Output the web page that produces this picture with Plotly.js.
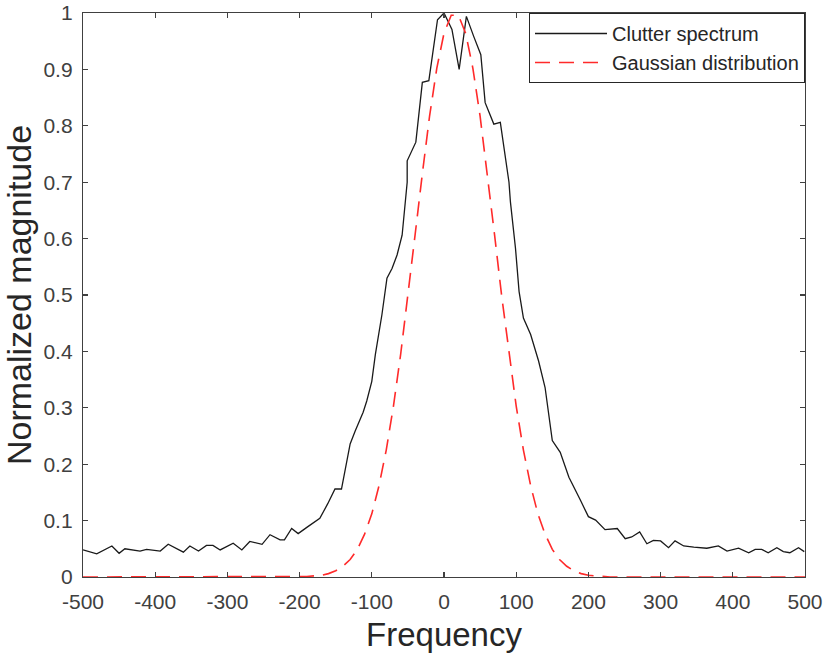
<!DOCTYPE html>
<html>
<head>
<meta charset="utf-8">
<script src="https://cdn.plot.ly/plotly-3.0.1.min.js"></script>
<style>html,body{margin:0;padding:0;background:#fff;}#chart{width:827px;height:664px;}</style>
</head>
<body>
<div id="chart"></div>
<script>
// Clutter spectrum (black solid)
var clutterFreq = [-500,-481,-460,-450,-442,-421,-412,-393,-382,-361,-352,-340,-329,-320,-310,-292,-280,-269,-252,-241,-227,-221,-211,-202,-190,-181,-172,-161,-151,-142,-137,-130,-123,-112,-107,-100,-95,-86,-79,-72,-65,-58,-51,-51,-39,-30,-21,-9,0,11,21,31,41,51,57,69,78,83,90,92,99,104,106,110,120,131,140,145,150,161,173,189,200,210,223,240,251,260,271,281,290,300,311,320,332,346,364,380,392,408,422,431,440,449,461,470,479,491,499];
var clutterMag  = [0.048,0.041,0.055,0.042,0.050,0.046,0.049,0.046,0.058,0.044,0.055,0.046,0.056,0.056,0.048,0.060,0.048,0.063,0.058,0.075,0.066,0.066,0.086,0.077,0.088,0.096,0.104,0.130,0.156,0.156,0.189,0.236,0.259,0.292,0.312,0.347,0.395,0.465,0.530,0.547,0.571,0.606,0.700,0.738,0.771,0.877,0.880,0.988,1.000,0.971,0.900,0.994,0.959,0.926,0.841,0.803,0.806,0.759,0.700,0.665,0.583,0.506,0.489,0.459,0.430,0.383,0.336,0.289,0.242,0.221,0.177,0.136,0.107,0.101,0.084,0.086,0.068,0.071,0.080,0.059,0.065,0.064,0.052,0.064,0.055,0.053,0.051,0.055,0.046,0.051,0.043,0.049,0.049,0.043,0.052,0.045,0.043,0.052,0.045];

// Gaussian distribution (red dashed)
var gaussFreq = [-500,-200,-190,-180,-170,-160,-150,-140,-130,-120,-110,-100,-90,-80,-70,-60,-50,-40,-30,-20,-10,0,10,20,30,40,50,60,70,80,90,100,110,120,130,140,150,160,170,180,190,200,210,220,230,500];
var gaussMag  = [0,0,0.001,0.002,0.003,0.006,0.011,0.019,0.031,0.049,0.076,0.112,0.162,0.225,0.303,0.395,0.497,0.607,0.715,0.817,0.902,0.964,0.996,0.996,0.964,0.902,0.817,0.715,0.607,0.497,0.395,0.303,0.225,0.162,0.112,0.076,0.049,0.031,0.019,0.011,0.006,0.003,0.002,0.001,0,0];

var xTicks = [-500,-400,-300,-200,-100,0,100,200,300,400,500];
var xTickText = ['-500','-400','-300','-200','-100','0','100','200','300','400','500'];
var yTicks = [0,0.1,0.2,0.3,0.4,0.5,0.6,0.7,0.8,0.9,1];
var yTickText = ['0','0.1','0.2','0.3','0.4','0.5','0.6','0.7','0.8','0.9','1'];

var traces = [
  {x: clutterFreq, y: clutterMag, type: 'scatter', mode: 'lines', name: 'Clutter spectrum',
   line: {color: '#1a1a1a', width: 1.3}},
  {x: gaussFreq, y: gaussMag, type: 'scatter', mode: 'lines', name: 'Gaussian distribution',
   line: {color: '#ff2a2a', width: 1.6, dash: '15px,9px'}}
];

var axisCommon = {
  showline: true, mirror: 'ticks', linecolor: '#404040', linewidth: 1.2,
  ticks: 'inside', ticklen: 5, tickwidth: 1.2, tickcolor: '#404040',
  showgrid: false, zeroline: false, ticklabeloverflow: 'allow',
  tickfont: {family: 'Liberation Sans, Arial, sans-serif', size: 21, color: '#404040'}
};

var layout = {
  width: 827, height: 664,
  margin: {l: 83, r: 22, t: 13, b: 87},
  paper_bgcolor: '#fff', plot_bgcolor: '#fff',
  showlegend: true,
  legend: {x: 1, xanchor: 'right', y: 1, yanchor: 'top', bgcolor: '#fff',
    bordercolor: '#262626', borderwidth: 1, itemwidth: 72,
    font: {family: 'Liberation Sans, Arial, sans-serif', size: 20, color: '#262626'},
    tracegroupgap: 0},
  xaxis: Object.assign({}, axisCommon, {
    range: [-500, 500], tickmode: 'array', tickvals: xTicks, ticktext: xTickText,
    ticklabelstandoff: 6,
    title: {text: 'Frequency', standoff: 10,
      font: {family: 'Liberation Sans, Arial, sans-serif', size: 33, color: '#262626'}}
  }),
  yaxis: Object.assign({}, axisCommon, {
    range: [0, 1], tickmode: 'array', tickvals: yTicks, ticktext: yTickText,
    ticklabelstandoff: 5,
    title: {text: 'Normalized magnitude', standoff: 8,
      font: {family: 'Liberation Sans, Arial, sans-serif', size: 34, color: '#262626'}}
  })
};

Plotly.newPlot('chart', traces, layout, {displayModeBar: false, staticPlot: true});
</script>
</body>
</html>
